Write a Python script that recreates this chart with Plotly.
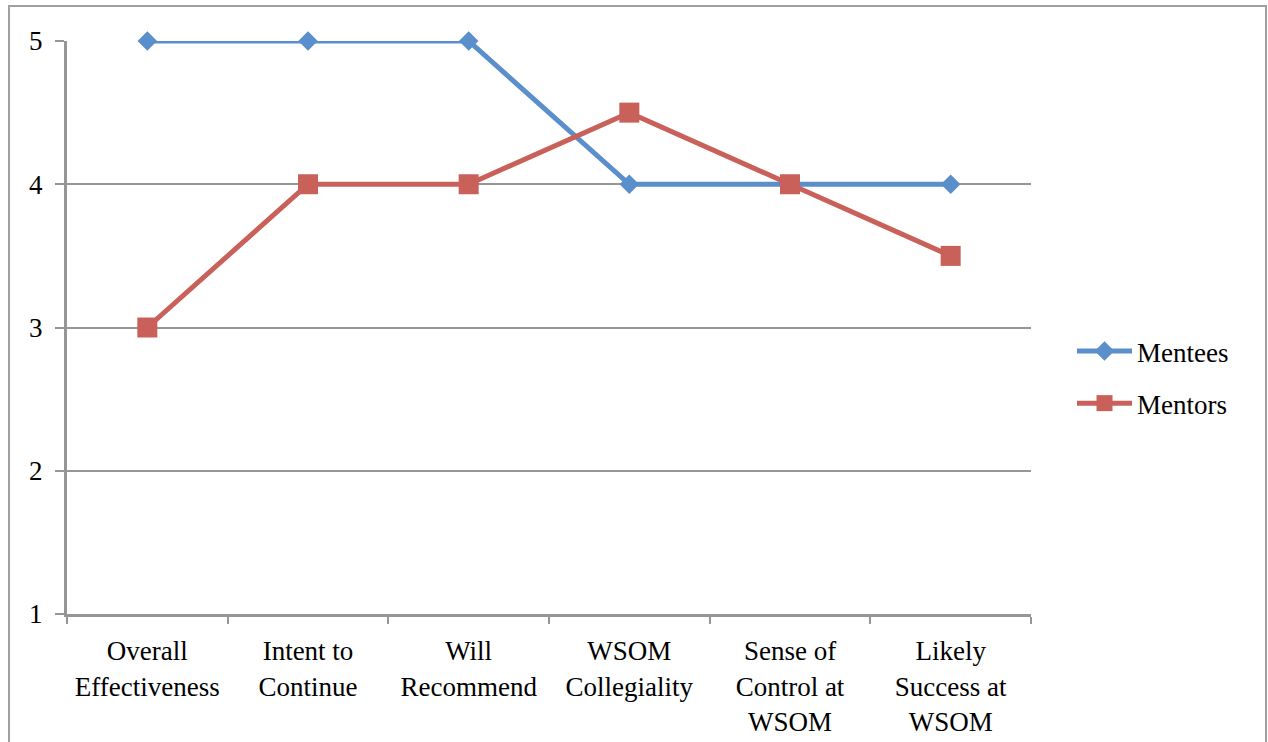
import plotly.graph_objects as go

categories = ["Overall<br>Effectiveness", "Intent to<br>Continue", "Will<br>Recommend",
              "WSOM<br>Collegiality", "Sense of<br>Control at<br>WSOM", "Likely<br>Success at<br>WSOM"]
mentees = [5, 5, 5, 4, 4, 4]
mentors = [3, 4, 4, 4.5, 4, 3.5]
y_ticks = [1, 2, 3, 4, 5]

FONT = "Liberation Serif"
GRID = "#969696"
BLUE = "#5A8FCB"
RED = "#C9605A"

fig = go.Figure()
fig.add_trace(go.Scatter(x=categories, y=mentees, name="Mentees", mode="lines+markers",
                         line=dict(color=BLUE, width=5),
                         marker=dict(symbol="diamond", size=15, color=BLUE),
                         legendgroup="a", cliponaxis=False))
fig.add_trace(go.Scatter(x=categories, y=mentors, name="Mentors", mode="lines+markers",
                         line=dict(color=RED, width=5),
                         marker=dict(symbol="square", size=20, color=RED),
                         legendgroup="b", cliponaxis=False))

W, H = 1268, 742
L, T = 67, 41
R = W - 1031
B = H - 614
pw, ph = W - L - R, H - T - B

def px_x(p):
    return (p - L) / pw

def px_y(p):
    return (H - B - p) / ph

fig.add_shape(type="rect", xref="paper", yref="paper",
              x0=px_x(9), x1=px_x(1266), y0=px_y(800), y1=px_y(6),
              line=dict(color="#A0A0A0", width=2), layer="below")

fig.update_layout(
    width=W, height=H,
    margin=dict(l=L, r=R, t=T, b=B, autoexpand=False),
    paper_bgcolor="white", plot_bgcolor="white",
    font=dict(family=FONT, size=27, color="black"),
    showlegend=True,
    legend=dict(x=px_x(1072), y=px_y(327), xanchor="left", yanchor="top",
                tracegroupgap=14, itemwidth=55, font=dict(family=FONT, size=27),
                bgcolor="rgba(0,0,0,0)"),
    xaxis=dict(type="category", range=[-0.5, len(categories) - 0.5],
               showline=True, linecolor=GRID, linewidth=3,
               ticks="outside", ticklen=7, tickcolor=GRID, tickwidth=2,
               tickson="boundaries", showgrid=False, zeroline=False, automargin=False,
               tickfont=dict(family=FONT, size=27), ticklabelstandoff=11),
    yaxis=dict(range=[1, 5], tickvals=y_ticks, showline=True, linecolor=GRID, linewidth=3,
               ticks="outside", ticklen=9, tickcolor=GRID, tickwidth=2, automargin=False,
               showgrid=True, gridcolor=GRID, gridwidth=2, zeroline=False,
               tickfont=dict(family=FONT, size=27), ticklabelstandoff=7),
)

fig.write_html("out.html", config={"displayModeBar": False},
               post_script="document.body.style.margin='0';document.body.style.overflow='hidden';")
